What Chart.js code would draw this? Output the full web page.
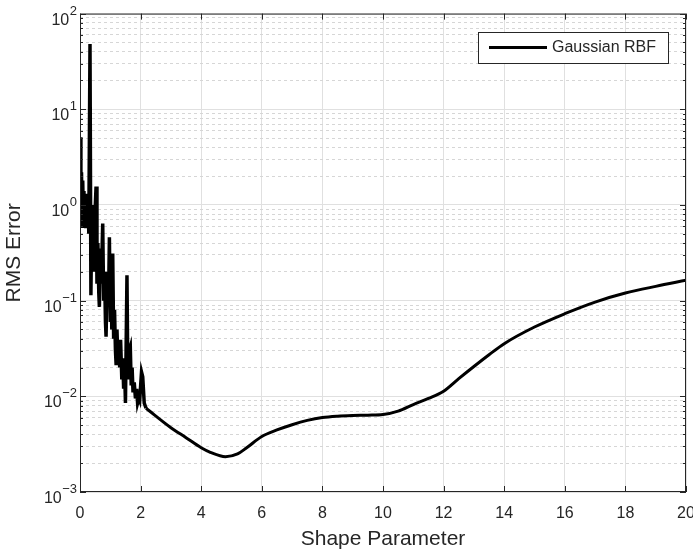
<!DOCTYPE html>
<html>
<head>
<meta charset="utf-8">
<script src="https://cdn.jsdelivr.net/npm/chart.js@4"></script>
<style>
  html, body { margin: 0; padding: 0; background: #fff; }
  #wrap { width: 693px; height: 552px; }
</style>
</head>
<body>
<div id="wrap"><canvas id="rbfChart" width="693" height="552"></canvas></div>
<script>
// RMS error vs shape parameter
// small shape parameter: the error jumps around a lot
const noisyShape = [0.01, 0.03, 0.05, 0.07, 0.09, 0.11, 0.13, 0.15, 0.17, 0.19, 0.21, 0.24, 0.27, 0.29,
  0.33, 0.36, 0.39, 0.42, 0.44, 0.47, 0.50, 0.53, 0.56, 0.59, 0.62, 0.64, 0.67, 0.70, 0.75, 0.78,
  0.81, 0.84, 0.86, 0.90, 0.94, 0.97, 1.00, 1.03, 1.05, 1.08, 1.11, 1.14, 1.17, 1.19, 1.22, 1.25,
  1.28, 1.31, 1.34, 1.38, 1.41, 1.44, 1.47, 1.50, 1.55, 1.58, 1.62, 1.66, 1.69, 1.72, 1.75, 1.79,
  1.83, 1.87, 1.90, 1.94, 1.97, 2.03, 2.07, 2.12, 2.18];
const noisyError = [5.1, 0.9, 2.2, 0.6, 1.8, 0.75, 1.4, 0.6, 1.2, 0.57, 1.31, 0.65, 1.1, 0.5,
  48, 0.114, 0.8, 0.25, 1.0, 0.2, 0.9, 1.56, 0.15, 0.4, 0.12, 0.086, 0.35, 0.15, 0.64, 0.1,
  0.2, 0.06, 0.042, 0.2, 0.09, 0.46, 0.06, 0.12, 0.05, 0.31, 0.04, 0.08, 0.03, 0.022, 0.05, 0.025,
  0.039, 0.02, 0.039, 0.015, 0.025, 0.012, 0.02, 0.0085, 0.184, 0.015, 0.03, 0.033, 0.013, 0.02, 0.011, 0.014,
  0.0095, 0.012, 0.0085, 0.0095, 0.009, 0.018, 0.016, 0.0085, 0.0075];

// larger shape parameter: smooth curve
const smoothShape = [2.18, 3, 3.5, 4, 4.3, 4.8, 5.2, 5.5, 6, 6.5, 7, 7.5, 8, 8.5, 9, 9.5, 10, 10.5, 11, 11.5,
  12, 12.5, 13, 13.5, 14, 15, 16, 17, 18, 19, 20];
const smoothError = [0.0075, 0.0047, 0.0037, 0.0029, 0.0026, 0.00234, 0.0025, 0.0029, 0.0038, 0.00445, 0.00505,
  0.0056, 0.006, 0.0062, 0.0063, 0.00635, 0.00645, 0.007, 0.0082, 0.0095,
  0.0113, 0.0153, 0.0205, 0.0272, 0.0355, 0.053, 0.073, 0.0966, 0.12, 0.141, 0.163];

const xTicks = [0, 2, 4, 6, 8, 10, 12, 14, 16, 18, 20];
const yTicks = [1e-3, 1e-2, 1e-1, 1, 10, 100];
const yTickBase = '10';
const yTickExponents = ['\u22123', '\u22122', '\u22121', '0', '1', '2'];
const seriesName = 'Gaussian RBF';

const axisColor = '#262626';
const fontFamily = '"Liberation Sans", Arial, Helvetica, sans-serif';

// 1..9 for every decade, for the dotted minor grid
const yGridValues = [];
for (let e = -3; e < 2; e++) {
  for (let m = 1; m <= 9; m++) {
    yGridValues.push(Number((m * Math.pow(10, e)).toPrecision(6)));
  }
}
yGridValues.push(100);

function majorIndex(v) {
  return yTicks.findIndex(t => Math.abs(Math.log10(t) - Math.log10(v)) < 1e-6);
}
function isMajorY(v) {
  return majorIndex(v) >= 0;
}

// box round the axes with small inward ticks, power-of-ten labels and the legend
const framePlugin = {
  id: 'frame',
  afterDraw(chart) {
    const ctx = chart.ctx;
    const a = chart.chartArea;
    const xs = chart.scales.x;
    const ys = chart.scales.y;
    ctx.save();
    ctx.strokeStyle = axisColor;
    ctx.lineWidth = 1;
    ctx.strokeRect(a.left + 0.5, a.top + 0.5, a.right - a.left - 1, a.bottom - a.top - 1);
    ctx.beginPath();
    xTicks.forEach(v => {
      const px = Math.round(xs.getPixelForValue(v)) + 0.5;
      ctx.moveTo(px, a.bottom); ctx.lineTo(px, a.bottom - 6);
      ctx.moveTo(px, a.top); ctx.lineTo(px, a.top + 6);
    });
    yGridValues.forEach(v => {
      const py = Math.round(ys.getPixelForValue(v)) + 0.5;
      const len = isMajorY(v) ? 6 : 3;
      ctx.moveTo(a.left, py); ctx.lineTo(a.left + len, py);
      ctx.moveTo(a.right, py); ctx.lineTo(a.right - len, py);
    });
    ctx.stroke();

    // y tick labels as 10 with a raised exponent
    ctx.fillStyle = axisColor;
    ctx.textAlign = 'right';
    ctx.textBaseline = 'alphabetic';
    const rightEdge = a.left - 3;
    yTicks.forEach((v, i) => {
      const py = ys.getPixelForValue(v);
      ctx.font = '13px ' + fontFamily;
      const ew = ctx.measureText(yTickExponents[i]).width;
      ctx.fillText(yTickExponents[i], rightEdge, py + 1);
      ctx.font = '16px ' + fontFamily;
      ctx.fillText(yTickBase, rightEdge - ew - 0.5, py + 11);
    });

    // legend box
    const lx = 478, ly = 32, lw = 190, lh = 31;
    ctx.fillStyle = '#fff';
    ctx.fillRect(lx, ly, lw, lh);
    ctx.strokeRect(lx + 0.5, ly + 0.5, lw, lh);
    ctx.beginPath();
    ctx.strokeStyle = '#000';
    ctx.lineWidth = 3;
    ctx.moveTo(489, ly + 15.5);
    ctx.lineTo(547, ly + 15.5);
    ctx.stroke();
    ctx.fillStyle = axisColor;
    ctx.font = '16px ' + fontFamily;
    ctx.textAlign = 'left';
    ctx.textBaseline = 'middle';
    ctx.fillText(seriesName, 552, ly + 16);
    ctx.restore();
  }
};

const chart = new Chart(document.getElementById('rbfChart'), {
  type: 'line',
  data: {
    datasets: [{
      label: seriesName,
      data: noisyShape.map((x, i) => ({ x: x, y: noisyError[i] })),
      borderColor: '#000',
      borderWidth: 3.5,
      pointRadius: 0,
      tension: 0,
      fill: false
    }, {
      label: seriesName + ' (smooth)',
      data: smoothShape.map((x, i) => ({ x: x, y: smoothError[i] })),
      borderColor: '#000',
      borderWidth: 3,
      pointRadius: 0,
      cubicInterpolationMode: 'monotone',
      fill: false
    }]
  },
  options: {
    responsive: false,
    animation: false,
    devicePixelRatio: 1,
    layout: { padding: { top: 13, right: 7, left: 0, bottom: 0 } },
    plugins: {
      legend: { display: false },
      tooltip: { enabled: false }
    },
    scales: {
      x: {
        type: 'linear',
        min: 0,
        max: 20,
        afterBuildTicks: scale => { scale.ticks = xTicks.map(v => ({ value: v })); },
        afterFit: scale => { scale.height = 60; scale.paddingRight = 0; },
        ticks: {
          autoSkip: false,
          maxRotation: 0,
          padding: 12,
          color: axisColor,
          font: { family: fontFamily, size: 16 }
        },
        grid: { color: '#e0e0e0', lineWidth: 1, drawTicks: false },
        border: { display: false },
        title: {
          display: true,
          text: 'Shape Parameter',
          color: axisColor,
          font: { family: fontFamily, size: 21 },
          padding: { top: 0, bottom: 0 }
        }
      },
      y: {
        type: 'logarithmic',
        min: 1e-3,
        max: 100,
        afterBuildTicks: scale => {
          scale.ticks = yGridValues.map(v => ({ value: v, major: isMajorY(v) }));
        },
        afterFit: scale => { scale.width = 80; },
        ticks: {
          autoSkip: false,
          padding: 4,
          color: axisColor,
          font: { family: fontFamily, size: 16 },
          callback: () => ''
        },
        grid: {
          color: ctx => (ctx.tick && !isMajorY(ctx.tick.value)) ? '#d6d6d6' : '#e0e0e0',
          lineWidth: 1,
          drawTicks: false
        },
        border: {
          display: false,
          dash: ctx => (ctx.tick && !isMajorY(ctx.tick.value)) ? [3, 3] : []
        },
        title: {
          display: true,
          text: 'RMS Error',
          color: axisColor,
          font: { family: fontFamily, size: 21 },
          padding: { top: 2, bottom: 0 }
        }
      }
    }
  },
  plugins: [framePlugin]
});
</script>
</body>
</html>
